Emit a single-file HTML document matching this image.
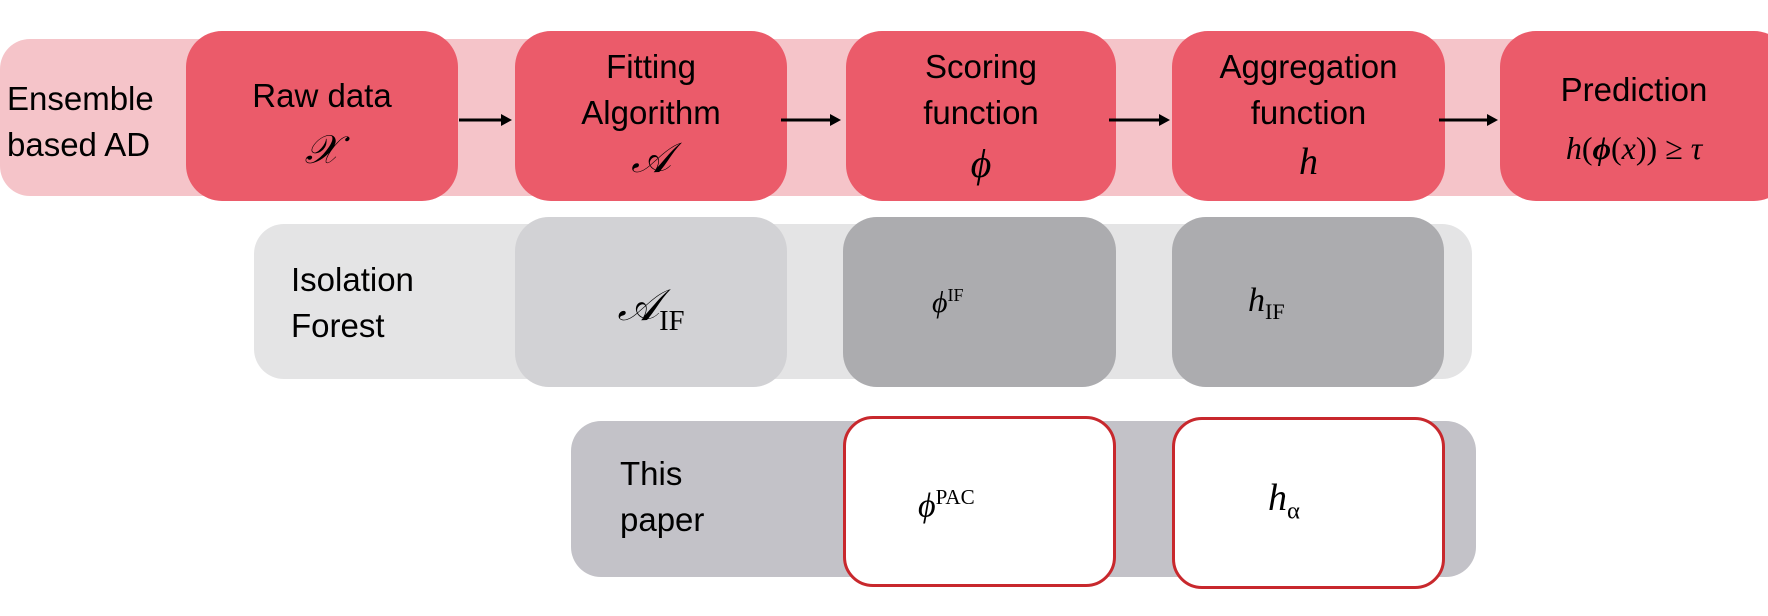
<!DOCTYPE html>
<html><head><meta charset="utf-8"><style>
body{margin:0;width:1768px;height:616px;background:#fff;position:relative;overflow:hidden;font-family:"Liberation Sans",sans-serif}
.a{position:absolute;box-sizing:border-box}
.t{position:absolute;font-size:33px;color:#000;line-height:46px;white-space:nowrap}
.c{text-align:center}
.m{font-family:"Liberation Serif",serif;font-style:italic;position:absolute;color:#000;white-space:nowrap}
.r{font-style:normal}
sub,sup{font-style:normal;font-size:65%}
.red{background:#eb5b6a;border-radius:36px}
</style></head><body>
<div class="a" style="left:0;top:39px;width:1740px;height:157px;background:#f5c4c9;border-radius:30px"></div>
<div class="a red" style="left:186px;top:31px;width:272px;height:170px"></div>
<div class="a red" style="left:515px;top:31px;width:272px;height:170px"></div>
<div class="a red" style="left:846px;top:31px;width:270px;height:170px"></div>
<div class="a red" style="left:1172px;top:31px;width:273px;height:170px"></div>
<div class="a red" style="left:1500px;top:31px;width:290px;height:170px"></div>
<svg class="a" style="left:0;top:0" width="1768" height="616">
<g stroke="#000" stroke-width="3" fill="#000">
<line x1="459" y1="120" x2="503" y2="120"/><polygon points="512,120 501,114 501,126" stroke="none"/>
<line x1="781" y1="120" x2="832" y2="120"/><polygon points="841,120 830,114 830,126" stroke="none"/>
<line x1="1109" y1="120" x2="1161" y2="120"/><polygon points="1170,120 1159,114 1159,126" stroke="none"/>
<line x1="1439" y1="120" x2="1489" y2="120"/><polygon points="1498,120 1487,114 1487,126" stroke="none"/>
</g></svg>
<div class="t" style="left:7px;top:76px">Ensemble<br>based AD</div>
<div class="t c" style="left:186px;top:73px;width:272px">Raw data</div>
<div class="m" style="left:186px;top:126px;width:272px;text-align:center;font-size:40px">𝒳</div>
<div class="t c" style="left:515px;top:44px;width:272px">Fitting<br>Algorithm</div>
<div class="m" style="left:515px;top:135px;width:272px;text-align:center;font-size:42px">𝒜</div>
<div class="t c" style="left:846px;top:44px;width:270px">Scoring<br>function</div>
<div class="m" style="left:846px;top:140px;width:270px;text-align:center;font-size:40px">ϕ</div>
<div class="t c" style="left:1172px;top:44px;width:273px">Aggregation<br>function</div>
<div class="m" style="left:1172px;top:140px;width:273px;text-align:center;font-size:38px">h</div>
<div class="t c" style="left:1500px;top:67px;width:268px">Prediction</div>
<div class="m" style="left:1500px;top:130px;width:268px;text-align:center;font-size:32px">h<span class="r">(</span><b>ϕ</b><span class="r">(</span>x<span class="r">))</span> <span class="r">≥</span> τ</div>

<div class="a" style="left:254px;top:224px;width:1218px;height:155px;background:#e4e4e5;border-radius:30px"></div>
<div class="a" style="left:515px;top:217px;width:272px;height:170px;background:#d2d2d5;border-radius:34px"></div>
<div class="a" style="left:843px;top:217px;width:273px;height:170px;background:#acacaf;border-radius:34px"></div>
<div class="a" style="left:1172px;top:217px;width:272px;height:170px;background:#acacaf;border-radius:34px"></div>
<div class="t" style="left:291px;top:257px">Isolation<br>Forest</div>
<div class="m" style="left:515px;top:280px;width:272px;text-align:center;font-size:44px">𝒜<sub>IF</sub></div>
<div class="m" style="left:932px;top:285px;font-size:30px">ϕ<sup style="font-size:60%">IF</sup></div>
<div class="m" style="left:1248px;top:282px;font-size:34px">h<sub>IF</sub></div>

<div class="a" style="left:571px;top:421px;width:905px;height:156px;background:#c3c2c8;border-radius:30px"></div>
<div class="a" style="left:843px;top:416px;width:273px;height:171px;background:#fff;border:3px solid #c8282d;border-radius:30px"></div>
<div class="a" style="left:1172px;top:417px;width:273px;height:172px;background:#fff;border:3px solid #c8282d;border-radius:30px"></div>
<div class="t" style="left:620px;top:451px">This<br>paper</div>
<div class="m" style="left:918px;top:485px;font-size:34px">ϕ<sup style="font-size:62%">PAC</sup></div>
<div class="m" style="left:1268px;top:476px;font-size:38px">h<sub>α</sub></div>
</body></html>
